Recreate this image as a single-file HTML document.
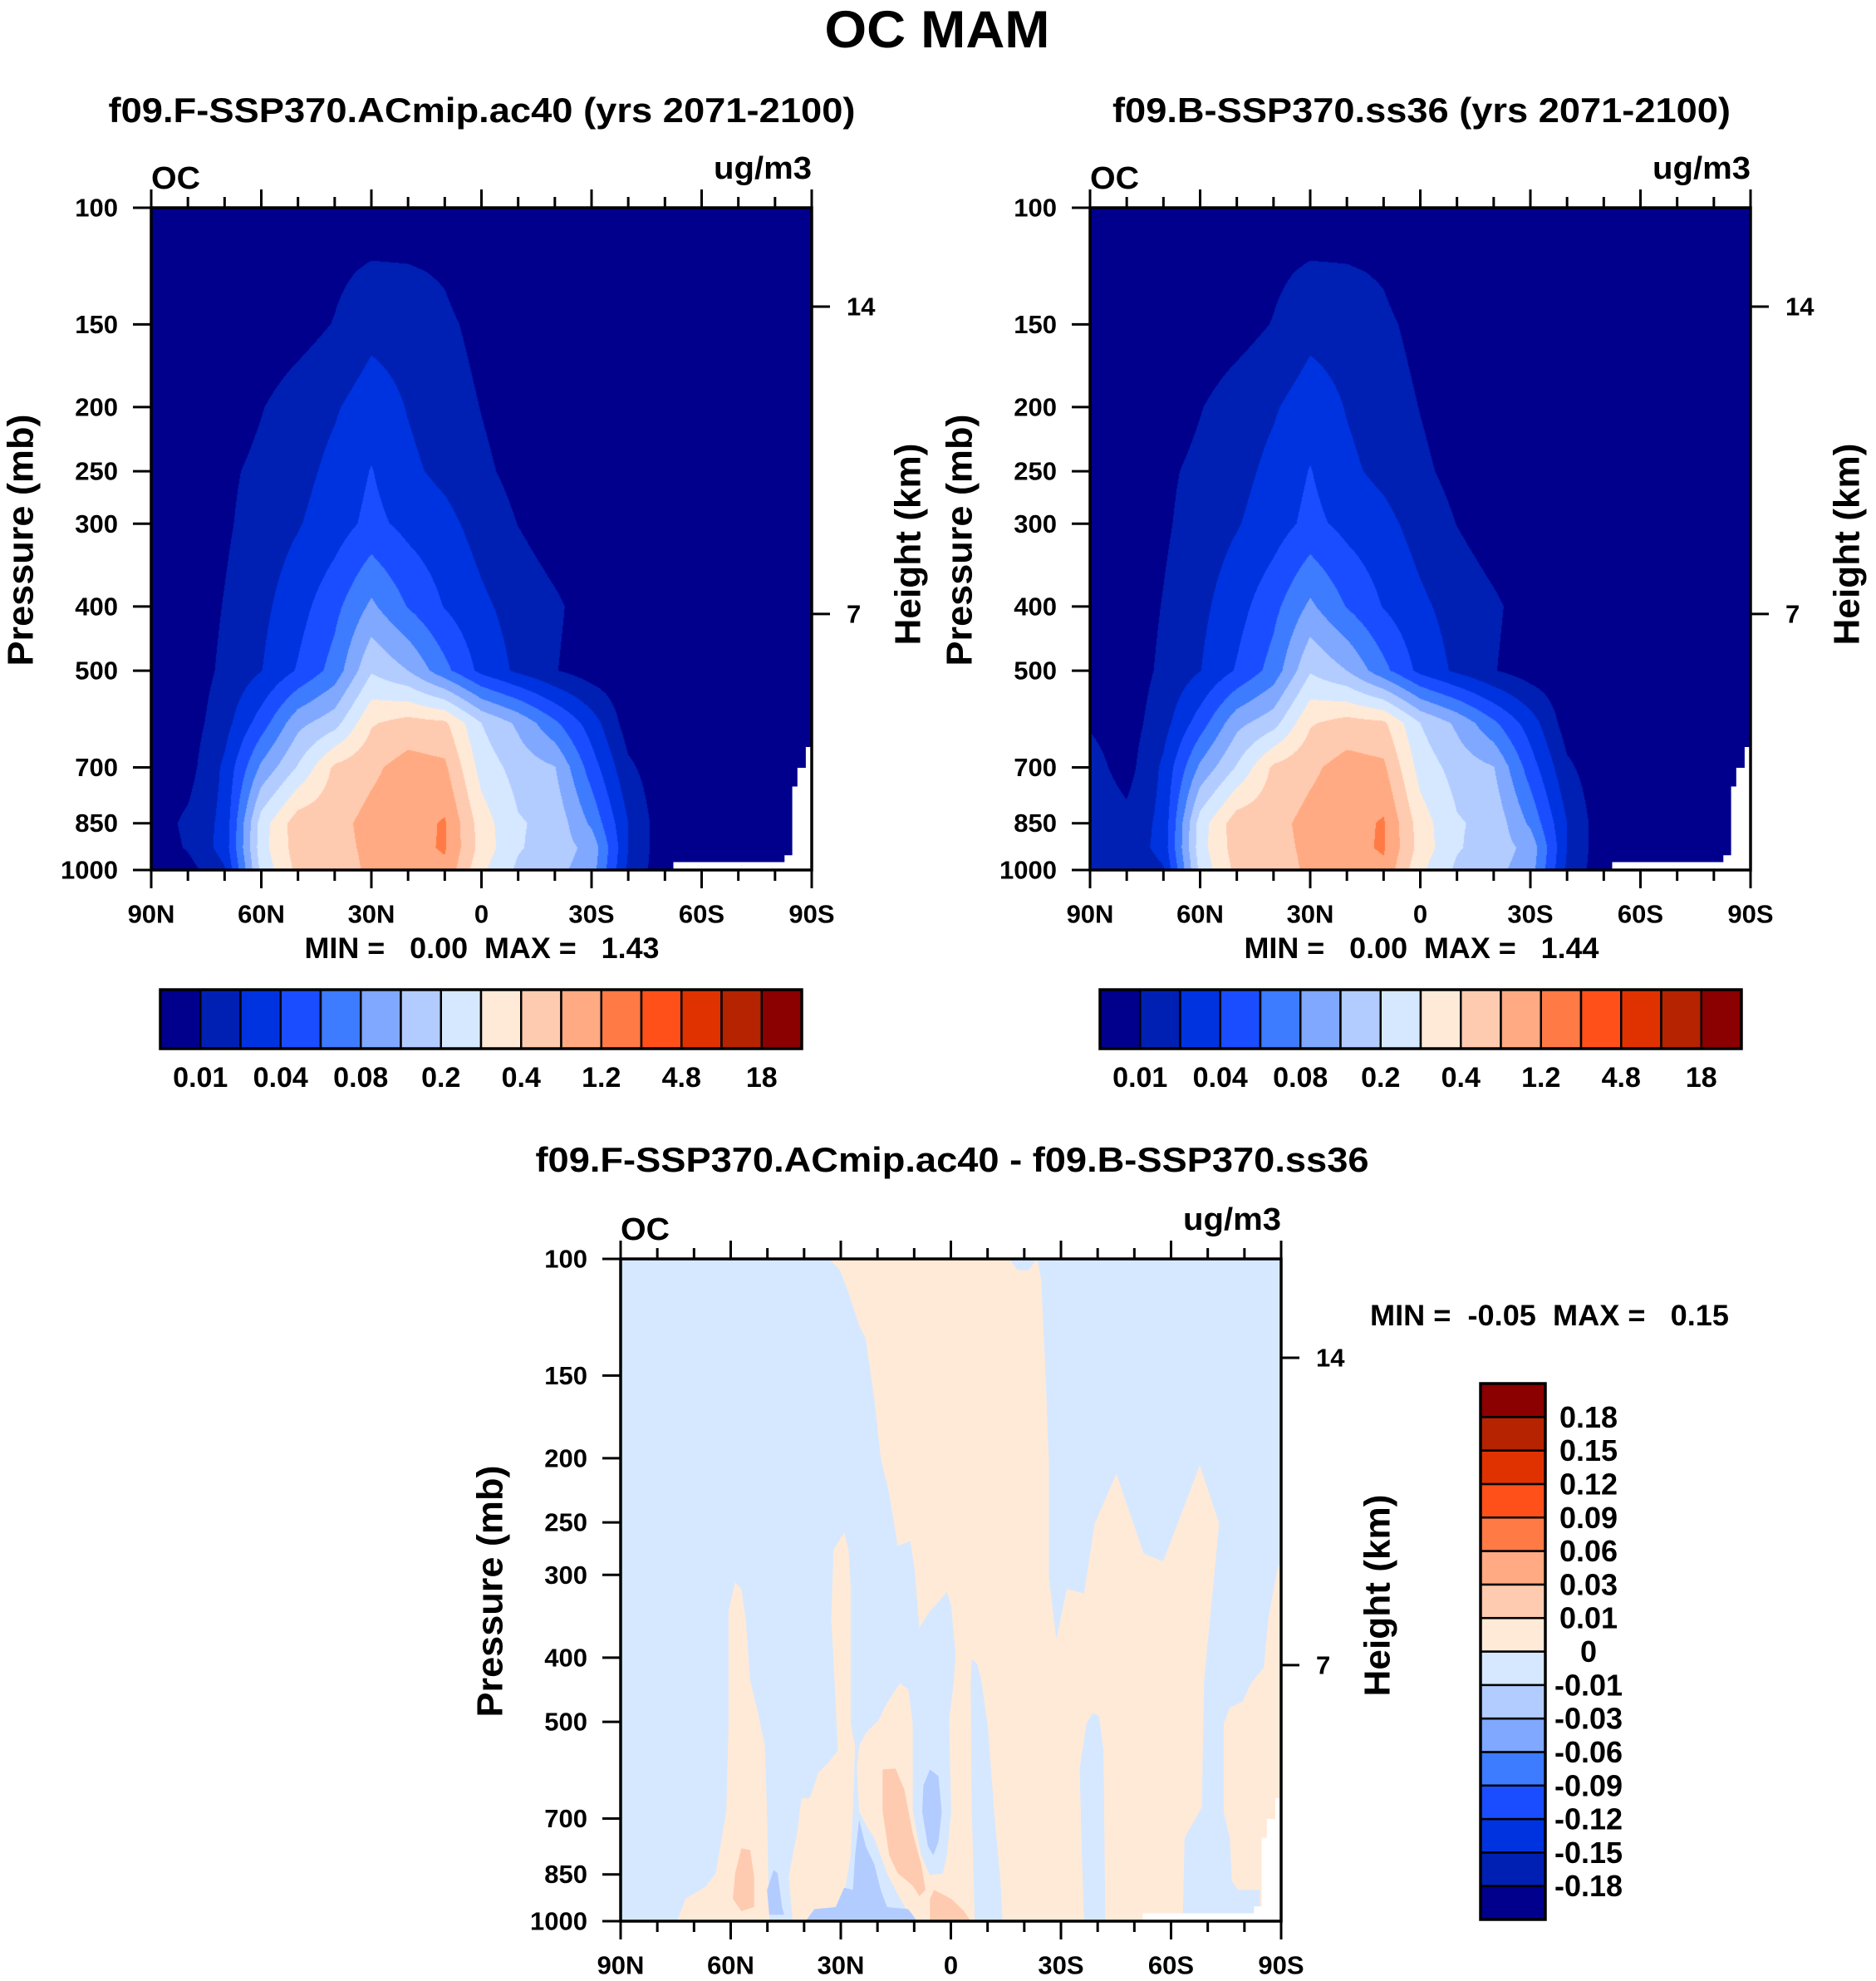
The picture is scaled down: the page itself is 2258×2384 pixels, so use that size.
<!DOCTYPE html>
<html><head><meta charset="utf-8"><style>
body{margin:0;background:#fff}
#root{position:relative;width:2258px;height:2384px;overflow:hidden;background:#fff}
canvas{position:absolute}
svg text{font-family:"Liberation Sans",Arial,sans-serif;font-weight:bold;fill:#000}
</style></head><body>
<div id="root">
<canvas id="cvL" width="795" height="797" style="left:182px;top:250px"></canvas>
<canvas id="cvR" width="795" height="797" style="left:1312px;top:250px"></canvas>
<svg id="chart" width="2258" height="2384" style="position:absolute;left:0;top:0">
<text x="1128" y="57" text-anchor="middle" font-size="63" textLength="271" lengthAdjust="spacingAndGlyphs">OC MAM</text>
<text x="580" y="147" text-anchor="middle" font-size="42" textLength="899" lengthAdjust="spacingAndGlyphs">f09.F-SSP370.ACmip.ac40 (yrs 2071-2100)</text>
<text x="1711" y="147" text-anchor="middle" font-size="42" textLength="744" lengthAdjust="spacingAndGlyphs">f09.B-SSP370.ss36 (yrs 2071-2100)</text>
<text x="1146" y="1410" text-anchor="middle" font-size="42" textLength="1003" lengthAdjust="spacingAndGlyphs">f09.F-SSP370.ACmip.ac40 - f09.B-SSP370.ss36</text>
<text x="580" y="1153" text-anchor="middle" font-size="35" xml:space="preserve" textLength="427" lengthAdjust="spacingAndGlyphs">MIN =   0.00  MAX =   1.43</text>
<text x="1711" y="1153" text-anchor="middle" font-size="35" xml:space="preserve" textLength="427" lengthAdjust="spacingAndGlyphs">MIN =   0.00  MAX =   1.44</text>
<text x="1649" y="1595" font-size="35" xml:space="preserve" textLength="432" lengthAdjust="spacingAndGlyphs">MIN =  -0.05  MAX =   0.15</text>
</svg>
</div>
<script>
// ---------------- data ----------------
const latNodes = [90,80,70,60,50,40,30,20,10,0,-10,-20,-30,-40,-50,-60,-70,-80,-90];
const pNodes = [100,125,150,200,250,300,400,500,600,700,850,925,1000];
const ocLevels = [0.01,0.02,0.04,0.06,0.08,0.1,0.2,0.3,0.4,0.8,1.2,2.4,4.8,9.6,18];
const ocLevelLabels = ['0.01','0.04','0.08','0.2','0.4','1.2','4.8','18'];
const diffLevels = [-0.18,-0.15,-0.12,-0.09,-0.06,-0.03,-0.01,0,0.01,0.03,0.06,0.09,0.12,0.15,0.18];
const diffLevelLabels = ['-0.18','-0.15','-0.12','-0.09','-0.06','-0.03','-0.01','0','0.01','0.03','0.06','0.09','0.12','0.15','0.18'];
const palette = ['#00008c','#0020b4','#0033e0','#1a4dff','#3d7bff','#80a8ff','#b3ccff','#d6e8ff','#ffead8','#ffcbb0','#ffaa82','#ff7a45','#ff501a','#e03200','#b52300','#8b0000'];
const latTickLabels = ['90N','60N','30N','0','30S','60S','90S'];
const latTickValues = [90,60,30,0,-30,-60,-90];
const pressureTicks = [100,150,200,250,300,400,500,700,850,1000];
const heightTicksKm = [14,7];

const ocLeft = [
[.003,.003,.003,.003,.003,.003,.003,.003,.003,.003,.003,.003,.003,.003,.003,.003,.003,.003,.003],
[.003,.003,.003,.003,.003,.008,.0115,.011,.009,.003,.003,.003,.003,.003,.003,.003,.003,.003,.003],
[.003,.003,.003,.003,.006,.0105,.017,.016,.012,.007,.004,.003,.003,.003,.003,.003,.003,.003,.003],
[.003,.003,.004,.0095,.015,.019,.03,.0195,.015,.0097,.005,.003,.003,.003,.003,.003,.003,.003,.003],
[.003,.003,.008,.0125,.017,.025,.041,.024,.0175,.012,.007,.004,.003,.003,.003,.003,.003,.003,.003],
[.003,.003,.0085,.0145,.0193,.03,.046,.034,.026,.016,.0098,.005,.003,.003,.003,.003,.003,.003,.003],
[.003,.004,.0105,.0175,.032,.054,.084,.059,.039,.024,.016,.0115,.006,.003,.003,.003,.003,.003,.003],
[.003,.0045,.012,.0197,.042,.068,.19,.1,.066,.034,.018,.0105,.005,.003,.003,.003,.003,.003,.003],
[.003,.005,.016,.05,.094,.16,.39,.56,.48,.2,.096,.064,.03,.005,.003,.003,.003,.003,.003],
[.003,.006,.024,.084,.21,.48,.72,.96,.88,.26,.16,.105,.05,.012,.003,.003,.003,.003,.003],
[.005,.012,.026,.25,.64,.68,.92,1.04,1.32,.35,.21,.17,.076,.02,.003,.003,.003,.003,.003],
[.004,.011,.028,.26,.6,.68,.88,1.08,1.32,.36,.21,.15,.094,.02,.003,.003,.003,.003,.003],
[.003,.006,.019,.23,.52,.6,.88,1.0,1.12,.32,.18,.13,.09,.018,.003,.003,.003,.003,.003]
];
const ocRight = [
[.003,.003,.003,.003,.003,.003,.003,.003,.003,.003,.003,.003,.003,.003,.003,.003,.003,.003,.003],
[.003,.003,.003,.003,.003,.008,.0115,.011,.009,.003,.003,.003,.003,.003,.003,.003,.003,.003,.003],
[.003,.003,.003,.003,.006,.0105,.017,.016,.012,.007,.004,.003,.003,.003,.003,.003,.003,.003,.003],
[.003,.003,.004,.0095,.015,.019,.03,.0195,.015,.0097,.005,.003,.003,.003,.003,.003,.003,.003,.003],
[.003,.003,.008,.0125,.017,.025,.041,.024,.0175,.012,.007,.004,.003,.003,.003,.003,.003,.003,.003],
[.003,.003,.0085,.0145,.0193,.03,.046,.034,.026,.016,.0098,.005,.003,.003,.003,.003,.003,.003,.003],
[.003,.004,.0105,.0175,.032,.054,.084,.059,.039,.024,.016,.0115,.006,.003,.003,.003,.003,.003,.003],
[.003,.0045,.012,.0197,.042,.068,.19,.1,.066,.034,.018,.0105,.005,.003,.003,.003,.003,.003,.003],
[.009,.005,.016,.05,.094,.16,.39,.56,.48,.2,.096,.064,.03,.005,.003,.003,.003,.003,.003],
[.014,.006,.024,.084,.21,.48,.72,.96,.88,.26,.16,.105,.05,.012,.003,.003,.003,.003,.003],
[.017,.013,.026,.25,.64,.68,.92,1.04,1.33,.35,.21,.17,.076,.02,.003,.003,.003,.003,.003],
[.016,.013,.028,.26,.6,.68,.88,1.08,1.33,.36,.21,.15,.094,.02,.003,.003,.003,.003,.003],
[.015,.01,.019,.23,.52,.6,.88,1.0,1.12,.32,.18,.13,.09,.018,.003,.003,.003,.003,.003]
];
const missingLat = [-90,-88.4,-88.4,-86.1,-86.1,-84.7,-84.7,-82.6,-82.6,-52.3,-52.3,-90];
const missingP   = [652,652,701,701,748,748,950,950,973,973,1000,1000];

const diffBackground = -0.005;
const diffMain = [[33.2,100],[-15.9,100],[-18.2,104],[-21.1,104],[-23.5,100],[-24.6,107.5],[-25.8,150],[-26.7,203],[-26.7,302],[-28.7,375],[-31.6,315],[-36.3,320],[-39.2,251],[-45.1,211],[-52.6,279],[-57.9,286],[-67.8,205],[-73.1,251],[-69.0,433],[-68.4,673],[-63.7,748],[-63.2,1000],[-42.1,1000],[-41.6,553],[-40.4,490],[-38.6,485],[-36.9,504],[-35.1,588],[-35.7,795],[-36.3,1000],[-14.1,1000],[-13.5,870],[-11.8,683],[-10.0,504],[-8.3,433],[-7.1,408],[-5.7,402],[-5.4,433],[-5.7,683],[-6.5,1000],[10.4,1000],[15.1,897],[17.4,847],[20.9,748],[23.2,714],[25.0,683],[25.6,588],[25.0,544],[23.2,520],[19.7,497],[17.4,468],[13.9,437],[11.6,447],[10.4,504],[10.4,683],[8.1,795],[5.7,852],[2.2,847],[1.1,795],[-0.1,683],[0.5,497],[-0.7,440],[-1.3,396],[-0.1,335],[1.1,318],[3.4,330],[5.7,340],[8.6,361],[9.8,297],[11.0,267],[14.5,271],[16.8,226],[19.1,200],[20.9,162],[22.1,146],[23.2,132],[25.0,126],[27.9,112.5],[30.2,104]];
const diffMainValue = 0.005;
const diffSouthPole = [[-90,284],[-88.8,297],[-86.5,350],[-85.3,414],[-81.8,437],[-79.5,466],[-76.0,476],[-74.3,504],[-74.3,683],[-76.0,748],[-76.6,870],[-78.3,897],[-84.2,897],[-84.2,952],[-90,952]];
const diffSouthPoleValue = 0.005;
const diffPlume60N = [[58.8,308],[57.1,315],[55.9,350],[54.7,433],[52.4,490],[50.7,544],[50.1,683],[49.5,1000],[74.6,1000],[72.3,925],[67.0,888],[64.1,847],[61.2,683],[60.6,504],[60.6,340]];
const diffPlume60NValue = 0.005;
const diffPlume35N = [[29.1,259],[27.9,275],[27.3,311],[27.3,504],[26.1,544],[26.7,683],[27.3,795],[30.2,1000],[43.1,1000],[44.2,857],[41.9,736],[40.7,652],[38.4,652],[36.1,596],[33.7,579],[30.8,553],[32.0,402],[32.6,350],[32.0,275]];
const diffPlume35NValue = 0.005;
const diffBlobA = [[18.6,590],[15.1,588],[12.7,632],[10.4,737],[8.1,819],[6.9,897],[8.6,917],[10.4,884],[14.5,847],[16.8,795],[18.6,683]];
const diffBlobAValue = 0.02;
const diffBlobB = [[57.1,776],[54.7,781],[53.6,858],[53.6,952],[57.1,966],[59.4,925],[58.8,847]];
const diffBlobBValue = 0.02;
const diffBlobC = [[4.6,897],[-0.1,925],[-3.6,966],[-5.4,1000],[5.7,1000],[5.7,925]];
const diffBlobCValue = 0.02;
const diffNegOval = [[5.7,590],[3.4,604],[2.5,683],[3.4,759],[4.8,795],[6.3,770],[7.8,683],[7.5,624]];
const diffNegOvalValue = -0.02;
const diffNegSurface = [[25.0,703],[23.2,771],[20.9,820],[19.1,897],[17.4,952],[11.6,959],[9.2,1000],[39.6,1000],[37.2,959],[31.4,952],[29.1,890],[26.7,897],[26.1,795]];
const diffNegSurfaceValue = -0.02;
const diffNegWest = [[48.3,837],[47.2,847],[46.0,952],[45.4,978],[49.5,978],[50.1,897]];
const diffNegWestValue = -0.02;

// ---------------- helpers ----------------
const W = 795, H = 797;
const panels = [
  {x0:182, y0:250, name:'left'},
  {x0:1312, y0:250, name:'right'},
  {x0:747, y0:1515, name:'difference'}
];
const B = [0].concat(ocLevels).concat([36]);
function v2i(v){
  for(let k=0;k<B.length-1;k++){ if(v<B[k+1]) return k+(v-B[k])/(B[k+1]-B[k]); }
  return 15.99;
}
function xOf(pan, lat){ return pan.x0 + (90-lat)/180*W; }
function yOf(pan, p){ return pan.y0 + (Math.log10(p)-2)*H; }
function hexRGB(h){ return [parseInt(h.substr(1,2),16),parseInt(h.substr(3,2),16),parseInt(h.substr(5,2),16)]; }
function diffColor(v){ let k=0; while(k<diffLevels.length && v>=diffLevels[k]) k++; return palette[k]; }
const NS='http://www.w3.org/2000/svg';
const svg=document.getElementById('chart');
function mk(tag, attrs, parent){ const e=document.createElementNS(NS,tag); for(const a in attrs) e.setAttribute(a,attrs[a]); (parent||svg).appendChild(e); return e; }

function renderField(cv, field){
  const ctx=cv.getContext('2d');
  const img=ctx.createImageData(W,H);
  const idx=field.map(r=>r.map(v2i));
  const lpn=pNodes.map(p=>Math.log10(p));
  const pal=palette.map(hexRGB);
  const nc=latNodes.length-1;
  for(let py=0;py<H;py++){
    const lp=2+(py+0.5)/H;
    let r=0; while(r<lpn.length-2 && lp>lpn[r+1]) r++;
    const t=(lp-lpn[r])/(lpn[r+1]-lpn[r]);
    for(let px=0;px<W;px++){
      const lat=90-(px+0.5)/W*180;
      const c=(latNodes[0]-lat)/(latNodes[0]-latNodes[1]);
      const j=Math.min(Math.floor(c),nc-1); const s=c-j;
      const v=(1-t)*((1-s)*idx[r][j]+s*idx[r][j+1])+t*((1-s)*idx[r+1][j]+s*idx[r+1][j+1]);
      const k=Math.max(0,Math.min(15,Math.floor(v)));
      const o=(py*W+px)*4; const cc=pal[k];
      img.data[o]=cc[0]; img.data[o+1]=cc[1]; img.data[o+2]=cc[2]; img.data[o+3]=255;
    }
  }
  ctx.putImageData(img,0,0);
}
renderField(document.getElementById('cvL'), ocLeft);
renderField(document.getElementById('cvR'), ocRight);

function polyPoints(pan, pts){ return pts.map(q=>xOf(pan,q[0]).toFixed(1)+','+yOf(pan,q[1]).toFixed(1)).join(' '); }

// difference field
const dp = panels[2];
const bg = mk('rect',{x:dp.x0,y:dp.y0,width:W,height:H,fill:diffColor(diffBackground)});


const diffRegions = [
  [diffMain,diffMainValue,'positive-region-main'],
  [diffSouthPole,diffSouthPoleValue,'positive-region-south-pole'],
  [diffPlume60N,diffPlume60NValue,'positive-plume-60n'],
  [diffPlume35N,diffPlume35NValue,'positive-plume-35n'],
  [diffBlobA,diffBlobAValue,'positive-blob-15n'],
  [diffBlobB,diffBlobBValue,'positive-blob-55n'],
  [diffBlobC,diffBlobCValue,'positive-blob-equator'],
  [diffNegOval,diffNegOvalValue,'negative-oval-5n'],
  [diffNegSurface,diffNegSurfaceValue,'negative-surface-25n'],
  [diffNegWest,diffNegWestValue,'negative-blob-48n']
];
diffRegions.forEach(rg=>{
  const pg = mk('polygon',{points:polyPoints(dp,rg[0]),fill:diffColor(rg[1])});
  
  
});

// per-panel axes
panels.forEach(pan=>{
  const miss = mk('polygon',{points:polyPoints(pan, missingLat.map((l,i)=>[l,missingP[i]])),fill:'#fff'});
  
  
  const g = mk('g',{stroke:'#000','stroke-width':3,fill:'none'});
  
  
  const fr = mk('rect',{x:pan.x0,y:pan.y0,width:W,height:H,'stroke-width':3.5},g);
  
  
  for(let lat=90;lat>=-90;lat-=10){
    const major = lat%30===0; const L = major?22:13; const x=xOf(pan,lat);
    const t1 = mk('line',{x1:x,y1:pan.y0,x2:x,y2:pan.y0-L},g);
    
    
    const t2 = mk('line',{x1:x,y1:pan.y0+H,x2:x,y2:pan.y0+H+L},g);
    
    
  }
  latTickValues.forEach((lat,i)=>{
    const t = mk('text',{x:xOf(pan,lat),y:pan.y0+H+53,'text-anchor':'middle','dominant-baseline':'central','font-size':31});
    t.textContent = latTickLabels[i];
    
    
  });
  pressureTicks.forEach(p=>{
    const y=yOf(pan,p);
    const tk = mk('line',{x1:pan.x0,y1:y,x2:pan.x0-22,y2:y},g);
    
    
    const t = mk('text',{x:pan.x0-40,y:y,'text-anchor':'end','dominant-baseline':'central','font-size':31});
    t.textContent = String(p);
    
    
  });
  heightTicksKm.forEach(z=>{
    const zm=z*1000;
    const p = zm<=11000 ? 1013.25*Math.pow(1-2.25577e-5*zm,5.25588) : 226.32*Math.exp(-(zm-11000)/6341.6);
    const y=yOf(pan,p);
    const tk = mk('line',{x1:pan.x0+W,y1:y,x2:pan.x0+W+22,y2:y},g);
    
    
    const t = mk('text',{x:pan.x0+W+42,y:y,'dominant-baseline':'central','font-size':31});
    t.textContent = String(z);
    
    
  });
  const oc = mk('text',{x:pan.x0,y:pan.y0-23,'font-size':38,textLength:59,lengthAdjust:'spacingAndGlyphs'});
  oc.textContent='OC';
  
  
  const un = mk('text',{x:pan.x0+W,y:pan.y0-35,'text-anchor':'end','font-size':38,textLength:118,lengthAdjust:'spacingAndGlyphs'});
  un.textContent='ug/m3';
  
  
  const yt = mk('text',{x:pan.x0-157,y:pan.y0+400,'text-anchor':'middle','dominant-baseline':'central','font-size':44,textLength:303,lengthAdjust:'spacingAndGlyphs',transform:'rotate(-90 '+(pan.x0-157)+' '+(pan.y0+400)+')'});
  yt.textContent='Pressure (mb)';
  
  
  const ht = mk('text',{x:pan.x0+W+116,y:pan.y0+405,'text-anchor':'middle','dominant-baseline':'central','font-size':44,textLength:243,lengthAdjust:'spacingAndGlyphs',transform:'rotate(-90 '+(pan.x0+W+116)+' '+(pan.y0+405)+')'});
  ht.textContent='Height (km)';
  
  
});

// horizontal colorbars
[[193,'left'],[1324,'right']].forEach(cb=>{
  const x0=cb[0], y0=1191, cw=772, ch=71, bw=cw/palette.length;
  palette.forEach((c,i)=>{
    const r = mk('rect',{x:x0+i*bw,y:y0,width:bw,height:ch,fill:c,stroke:'#000','stroke-width':2.5});
    
    
  });
  const fr = mk('rect',{x:x0,y:y0,width:cw,height:ch,fill:'none',stroke:'#000','stroke-width':3.5});
  
  
  ocLevelLabels.forEach((lab,i)=>{
    const t = mk('text',{x:x0+(2*i+1)*bw,y:1297,'text-anchor':'middle','dominant-baseline':'central','font-size':34});
    t.textContent=lab;
    
    
  });
});

// vertical colorbar for difference
(function(){
  const x0=1782, y0=1665, cw=78, chh=645, bh=chh/palette.length;
  palette.forEach((c,i)=>{
    const r = mk('rect',{x:x0,y:y0+(palette.length-1-i)*bh,width:cw,height:bh,fill:c,stroke:'#000','stroke-width':2.5});
    
    
  });
  const fr = mk('rect',{x:x0,y:y0,width:cw,height:chh,fill:'none',stroke:'#000','stroke-width':3.5});
  
  
  diffLevelLabels.forEach((lab,i)=>{
    const t = mk('text',{x:1912,y:y0+(palette.length-1-i)*bh,'text-anchor':'middle','dominant-baseline':'central','font-size':36});
    t.textContent=lab;
    
    
  });
})();
</script>
</body></html>
